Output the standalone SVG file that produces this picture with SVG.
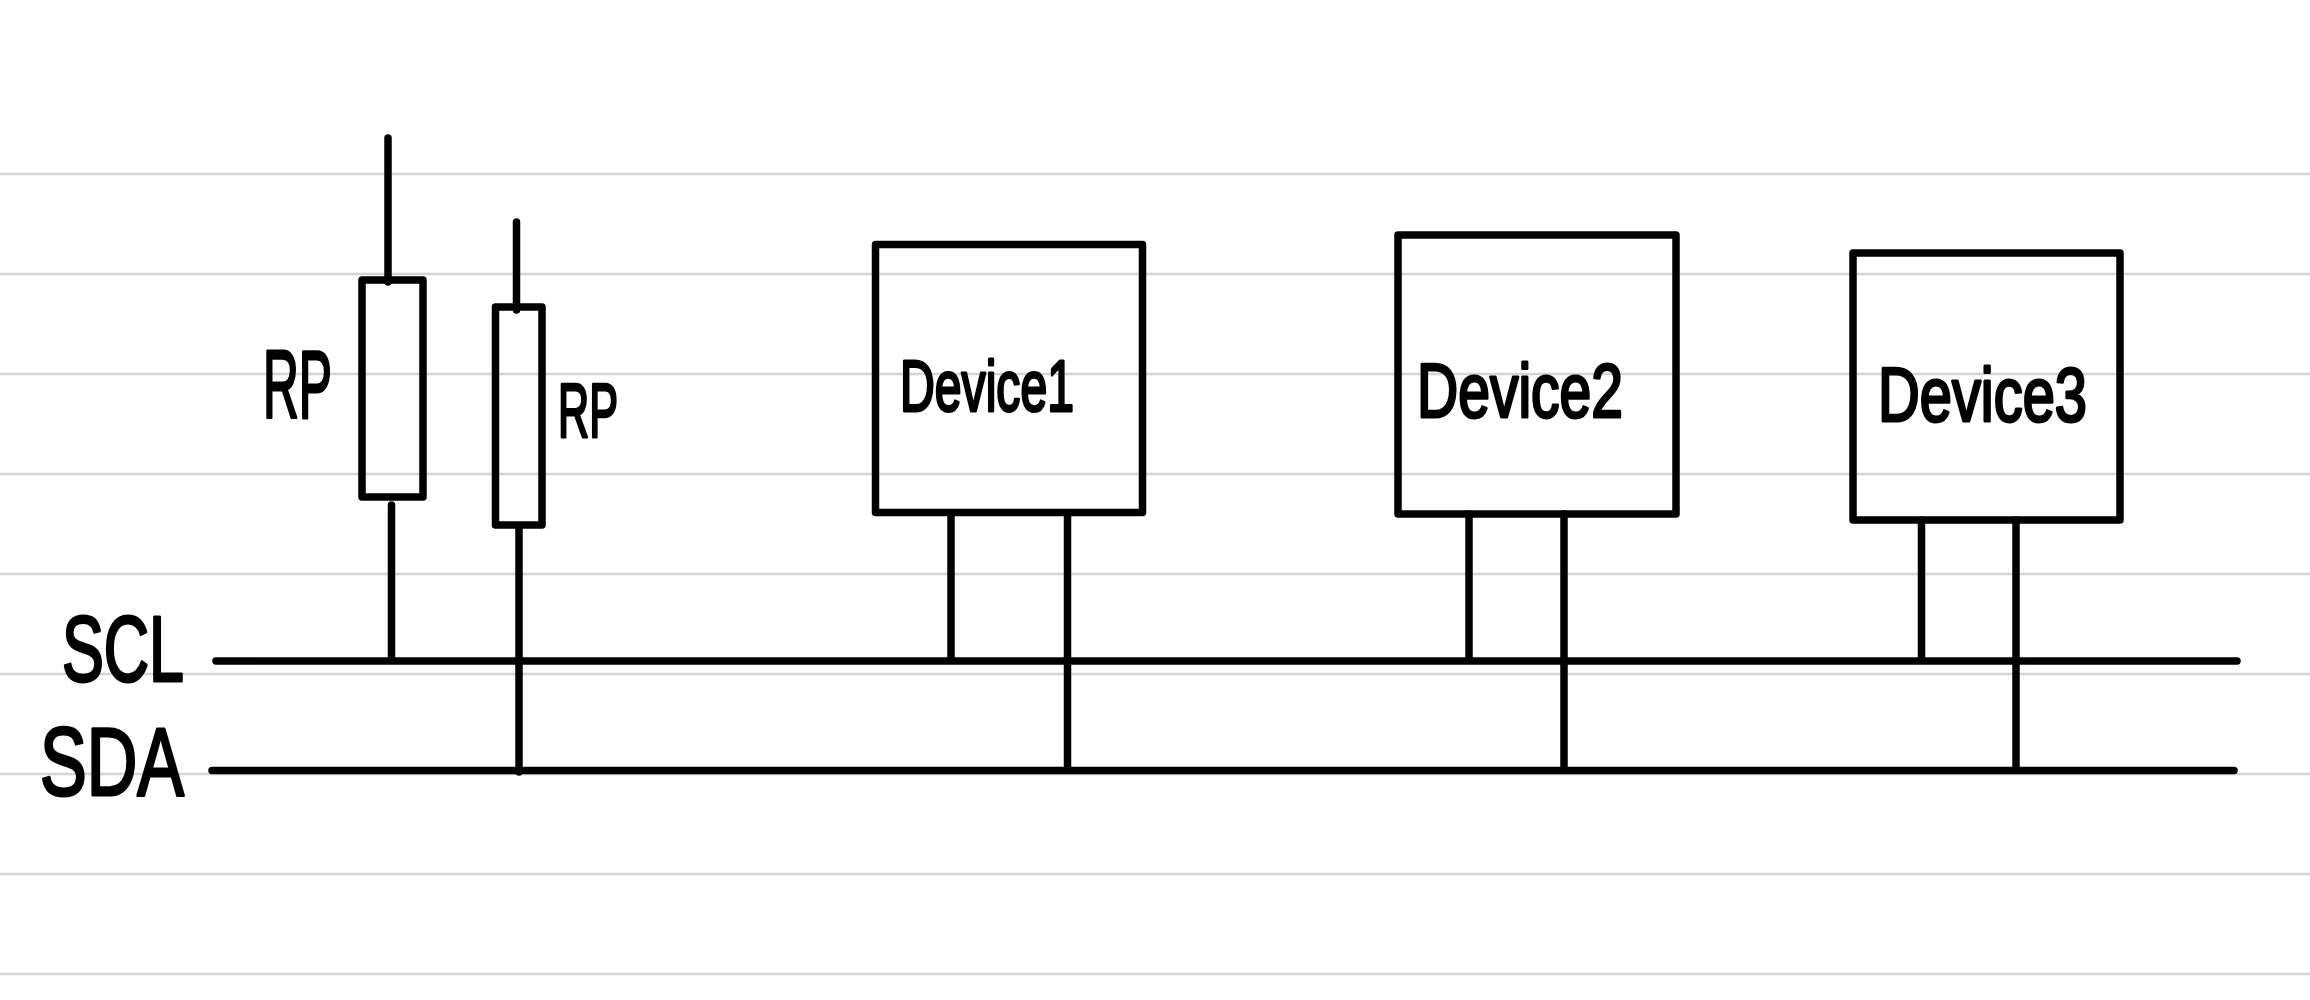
<svg xmlns="http://www.w3.org/2000/svg" width="2310" height="1000" viewBox="0 0 2310 1000">
<style>
.guide{stroke:#d4d4d4;stroke-width:2.5;fill:none}
.ink{stroke:#000;stroke-width:7.500;fill:none;stroke-linecap:round;stroke-linejoin:round}
.hand{font-family:"Liberation Sans",Arial,sans-serif;fill:#000;stroke:#000;stroke-width:3;stroke-linejoin:round}
</style>
<rect width="2310" height="1000" fill="#fff"/>
<g id="guides">
<line class="guide" x1="0" y1="174" x2="2310" y2="174"/>
<line class="guide" x1="0" y1="274" x2="2310" y2="274"/>
<line class="guide" x1="0" y1="374" x2="2310" y2="374"/>
<line class="guide" x1="0" y1="474" x2="2310" y2="474"/>
<line class="guide" x1="0" y1="574" x2="2310" y2="574"/>
<line class="guide" x1="0" y1="674" x2="2310" y2="674"/>
<line class="guide" x1="0" y1="774" x2="2310" y2="774"/>
<line class="guide" x1="0" y1="874" x2="2310" y2="874"/>
<line class="guide" x1="0" y1="974" x2="2310" y2="974"/>
</g>
<g id="connectors">
<line class="ink" x1="216" y1="661" x2="2237" y2="661"/>
<line class="ink" x1="212" y1="770.500" x2="2234" y2="770.500"/>
<line class="ink" x1="388" y1="138" x2="388" y2="282"/>
<line class="ink" x1="391.500" y1="505" x2="391.500" y2="660"/>
<line class="ink" x1="516.500" y1="222" x2="516.500" y2="310"/>
<line class="ink" x1="519" y1="526" x2="519" y2="772"/>
<line class="ink" x1="951" y1="513" x2="951" y2="660"/>
<line class="ink" x1="1067.500" y1="513" x2="1067.500" y2="770"/>
<line class="ink" x1="1469" y1="514" x2="1469" y2="660"/>
<line class="ink" x1="1564" y1="514" x2="1564" y2="770"/>
<line class="ink" x1="1921.500" y1="520" x2="1921.500" y2="660"/>
<line class="ink" x1="2016" y1="520" x2="2016" y2="770"/>
</g>
<g id="label-scl"><text class="hand" x="62" y="681" font-size="92" textLength="122" lengthAdjust="spacingAndGlyphs">SCL</text></g>
<g id="label-sda"><text class="hand" x="40" y="795" font-size="96" textLength="144" lengthAdjust="spacingAndGlyphs">SDA</text></g>
<g id="rp1">
<rect class="ink" x="362" y="280" width="61" height="217"/>
<text class="hand" x="263" y="418" font-size="96" textLength="69" lengthAdjust="spacingAndGlyphs">RP</text>
</g>
<g id="rp2">
<rect class="ink" x="495.500" y="307" width="46.500" height="218"/>
<text class="hand" x="558" y="437" font-size="76" textLength="60" lengthAdjust="spacingAndGlyphs">RP</text>
</g>
<g id="device1">
<rect class="ink" x="875.500" y="244.500" width="267" height="268"/>
<text class="hand" x="900" y="411" font-size="72" textLength="174" lengthAdjust="spacingAndGlyphs">Device1</text>
</g>
<g id="device2">
<rect class="ink" x="1398" y="235" width="278" height="279"/>
<text class="hand" x="1417" y="417" font-size="76" textLength="206" lengthAdjust="spacingAndGlyphs">Device2</text>
</g>
<g id="device3">
<rect class="ink" x="1853" y="253" width="267" height="267"/>
<text class="hand" x="1878" y="421" font-size="76" textLength="209" lengthAdjust="spacingAndGlyphs">Device3</text>
</g>
</svg>
